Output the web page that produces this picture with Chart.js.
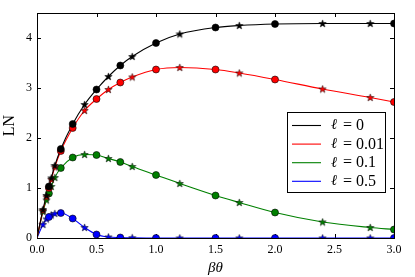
<!DOCTYPE html>
<html>
<head>
<meta charset="utf-8">
<script src="https://cdn.jsdelivr.net/npm/chart.js@4.4.1/dist/chart.umd.min.js"></script>
<style>
  html, body { margin: 0; padding: 0; background: #fff; }
  #wrap { width: 415px; height: 277px; position: relative; }
</style>
</head>
<body>
<div id="wrap"><canvas id="myChart" width="415" height="277"></canvas></div>
<script>
// beta*theta where the two kinds of markers sit
const circleX = [0.1, 0.2, 0.3, 0.5, 0.7, 1.0, 1.5, 2.0, 3.0];
const starX = [0.05, 0.08, 0.12, 0.15, 0.4, 0.6, 0.8, 1.2, 1.7, 2.4, 2.8];

const ellLabels = ["0", "0.01", "0.1", "0.5"];
const colors = ["#000000", "#ff0000", "#008000", "#0000ff"];

// LN values, one row per ell
const circleLN = [
  [1.03, 1.78, 2.28, 2.97, 3.45, 3.90, 4.21, 4.28, 4.29],
  [1.00, 1.74, 2.20, 2.78, 3.11, 3.37, 3.37, 3.17, 2.72],
  [0.89, 1.40, 1.61, 1.66, 1.52, 1.26, 0.85, 0.51, 0.17],
  [0.42, 0.50, 0.39, 0.07, 0.01, 0.00, 0.00, 0.00, 0.00],
];
const starLN = [
  [0.57, 0.85, 1.20, 1.45, 2.67, 3.23, 3.63, 4.08, 4.25, 4.29, 4.29],
  [0.55, 0.82, 1.17, 1.42, 2.55, 2.97, 3.22, 3.41, 3.30, 2.98, 2.81],
  [0.53, 0.76, 1.03, 1.21, 1.67, 1.59, 1.43, 1.09, 0.71, 0.32, 0.21],
  [0.27, 0.38, 0.46, 0.49, 0.21, 0.02, 0.005, 0.00, 0.00, 0.00, 0.00],
];

const xTicks = [0, 0.5, 1.0, 1.5, 2.0, 2.5, 3.0];
const yTicks = [0, 1, 2, 3, 4];

function makeStar(fill) {
  var c = document.createElement("canvas");
  c.width = 9;
  c.height = 9;
  var g = c.getContext("2d");
  g.beginPath();
  for (var i = 0; i < 10; i++) {
    var r = i % 2 == 0 ? 3.9 : 1.6;
    var a = -Math.PI / 2 + (i * Math.PI) / 5;
    var px = 4.5 + r * Math.cos(a);
    var py = 4.8 + r * Math.sin(a);
    if (i == 0) g.moveTo(px, py);
    else g.lineTo(px, py);
  }
  g.closePath();
  g.fillStyle = fill;
  g.fill();
  g.lineWidth = 0.5;
  g.strokeStyle = "#000";
  g.stroke();
  return c;
}

function pairs(xs, ys) {
  return xs.map(function (x, i) { return { x: x, y: ys[i] }; });
}

const datasets = [];
for (let k = 0; k < 4; k++) {
  var pts = [{ x: 0, y: 0 }]
    .concat(pairs(circleX, circleLN[k]))
    .concat(pairs(starX, starLN[k]))
    .sort(function (a, b) { return a.x - b.x; });
  datasets.push({
    label: "\u2113 = " + ellLabels[k],
    data: pts,
    borderColor: colors[k],
    borderWidth: 1.1,
    pointRadius: 0,
    cubicInterpolationMode: "monotone",
    order: 2,
  });
  datasets.push({
    label: "c" + k,
    data: pairs(circleX, circleLN[k]),
    showLine: false,
    pointStyle: "circle",
    pointRadius: 3.5,
    pointBackgroundColor: colors[k],
    pointBorderColor: "#000",
    pointBorderWidth: 0.6,
    order: 1,
  });
  datasets.push({
    label: "s" + k,
    data: pairs(starX, starLN[k]),
    showLine: false,
    pointStyle: makeStar(colors[k]),
    pointRadius: 4,
    order: 1,
  });
}

const framePlugin = {
  id: "frame",
  beforeDatasetsDraw(chart) {
    var ctx = chart.ctx;
    var a = chart.chartArea;
    var xs = chart.scales.x;
    var ys = chart.scales.y;
    ctx.save();
    ctx.strokeStyle = "#000";
    ctx.lineWidth = 1;
    ctx.strokeRect(Math.round(a.left) + 0.5, Math.round(a.top) + 0.5,
      Math.round(a.right - a.left), Math.round(a.bottom - a.top));
    ctx.beginPath();
    xTicks.forEach(function (v) {
      var p = Math.round(xs.getPixelForValue(v)) + 0.5;
      ctx.moveTo(p, a.bottom);
      ctx.lineTo(p, a.bottom - 4);
      ctx.moveTo(p, a.top);
      ctx.lineTo(p, a.top + 4);
    });
    yTicks.forEach(function (v) {
      var p = Math.round(ys.getPixelForValue(v)) + 0.5;
      ctx.moveTo(a.left, p);
      ctx.lineTo(a.left + 4, p);
      ctx.moveTo(a.right, p);
      ctx.lineTo(a.right - 4, p);
    });
    ctx.stroke();
    ctx.restore();
  },
};

const legendPlugin = {
  id: "boxLegend",
  afterDraw(chart) {
    var ctx = chart.ctx;
    var x0 = 287.5, y0 = 112.5, w = 98, h = 80;
    ctx.save();
    ctx.fillStyle = "#fff";
    ctx.fillRect(x0, y0, w, h);
    ctx.strokeStyle = "#000";
    ctx.lineWidth = 1;
    ctx.strokeRect(x0, y0, w, h);
    for (var k = 0; k < 4; k++) {
      var yy = 125.5 + k * 18.6;
      ctx.strokeStyle = colors[k];
      ctx.lineWidth = 1.1;
      ctx.beginPath();
      ctx.moveTo(292, yy);
      ctx.lineTo(321, yy);
      ctx.stroke();
      ctx.fillStyle = "#000";
      ctx.textBaseline = "middle";
      ctx.font = "italic 15px 'DejaVu Serif'";
      ctx.fillText("\u2113", 331, yy);
      ctx.font = "16px 'Liberation Serif'";
      ctx.fillText("= " + ellLabels[k], 343, yy + 0.5);
    }
    ctx.restore();
  },
};

const config = {
  type: "line",
  data: { datasets: datasets },
  options: {
    responsive: false,
    animation: false,
    layout: { padding: { top: 13, right: 21, left: 0, bottom: 0 } },
    plugins: {
      legend: { display: false },
      tooltip: { enabled: false },
    },
    scales: {
      x: {
        type: "linear",
        min: 0,
        max: 3,
        grid: { display: false, drawTicks: false },
        border: { display: false },
        ticks: {
          stepSize: 0.5,
          padding: 5,
          color: "#000",
          font: { family: "'Liberation Serif'", size: 12 },
          callback: function (v) { return v.toFixed(1); },
        },
        title: {
          display: true,
          text: "\u03b2\u03b8",
          color: "#000",
          padding: 0,
          font: { family: "'Liberation Serif'", size: 15, style: "italic" },
        },
        afterFit: function (s) { s.height = 39; },
      },
      y: {
        type: "linear",
        min: 0,
        max: 4.5,
        grid: { display: false, drawTicks: false },
        border: { display: false },
        ticks: {
          stepSize: 1,
          includeBounds: false,
          padding: 5,
          color: "#000",
          font: { family: "'Liberation Serif'", size: 12 },
        },
        title: {
          display: true,
          text: "LN",
          color: "#000",
          padding: 0,
          font: { family: "'Liberation Serif'", size: 16 },
        },
        afterFit: function (s) { s.width = 37; },
      },
    },
  },
  plugins: [framePlugin, legendPlugin],
};

const myChart = new Chart(document.getElementById("myChart"), config);
</script>
</body>
</html>
